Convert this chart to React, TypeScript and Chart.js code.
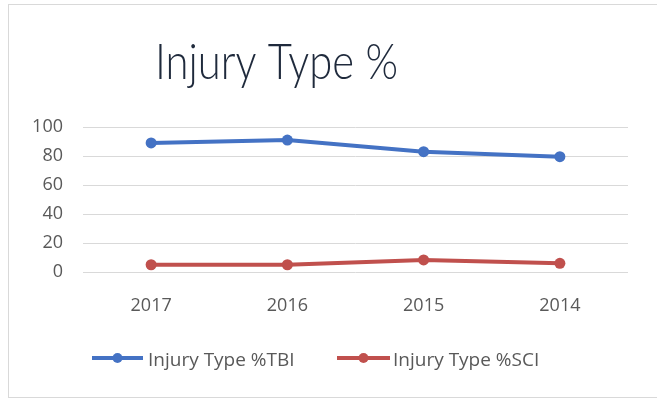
import React, { useEffect, useRef } from "react";
import { Chart, registerables } from "chart.js";

Chart.register(...registerables);

const years = ["2017", "2016", "2015", "2014"];
const tbiValues = [89, 91, 83, 79.5];
const sciValues = [5, 5, 8.3, 6];
const yTicks = [0, 20, 40, 60, 80, 100];
const titleText = "Injury Type %";
const seriesNames = ["Injury Type %TBI", "Injury Type %SCI"];

const BLUE = "#4472C4";
const RED = "#C0504D";
const GRID = "#d9d9d9";
const TICK = "#595959";

const customPlugin = {
  id: "customDecor",
  afterDraw(chart: any) {
    const ctx = chart.ctx as CanvasRenderingContext2D;
    ctx.save();
    // Title
    ctx.font = "300 50px Lato, sans-serif";
    ctx.fillStyle = "#1f2a3c";
    ctx.textBaseline = "alphabetic";
    ctx.textAlign = "left";
    const w = ctx.measureText(titleText).width;
    const target = 243;
    const sx = target / w;
    ctx.translate(155, 79);
    ctx.scale(sx, 1);
    ctx.fillText(titleText, 0, 0);
    ctx.restore();

    // Legend
    const items = [
      { color: BLUE, x0: 92, x1: 143, tx: 148, label: seriesNames[0] },
      { color: RED, x0: 337, x1: 390, tx: 393, label: seriesNames[1] },
    ];
    ctx.save();
    const ly = 358;
    for (const it of items) {
      ctx.strokeStyle = it.color;
      ctx.lineWidth = 4;
      ctx.beginPath();
      ctx.moveTo(it.x0, ly);
      ctx.lineTo(it.x1, ly);
      ctx.stroke();
      ctx.fillStyle = it.color;
      ctx.beginPath();
      ctx.arc((it.x0 + it.x1) / 2, ly, 5, 0, Math.PI * 2);
      ctx.fill();
      ctx.font = "19px 'Open Sans', sans-serif";
      ctx.fillStyle = TICK;
      ctx.textBaseline = "alphabetic";
      ctx.textAlign = "left";
      ctx.fillText(it.label, it.tx, 366);
    }
    ctx.restore();
  },
};

export default function App() {
  const ref = useRef<HTMLCanvasElement | null>(null);
  useEffect(() => {
    if (!ref.current) return;
    const chart = new Chart(ref.current, {
      type: "line",
      data: {
        labels: years,
        datasets: [
          {
            label: seriesNames[0],
            data: tbiValues,
            borderColor: BLUE,
            backgroundColor: BLUE,
            borderWidth: 4,
            pointRadius: 5.5,
            pointBackgroundColor: BLUE,
            pointBorderColor: BLUE,
            pointBorderWidth: 0,
            tension: 0,
          },
          {
            label: seriesNames[1],
            data: sciValues,
            borderColor: RED,
            backgroundColor: RED,
            borderWidth: 4,
            pointRadius: 5.5,
            pointBackgroundColor: RED,
            pointBorderColor: RED,
            pointBorderWidth: 0,
            tension: 0,
          },
        ],
      },
      options: {
        responsive: false,
        animation: false,
        maintainAspectRatio: false,
        layout: { padding: { left: 32, right: 29, top: 127, bottom: 0 } },
        plugins: {
          legend: { display: false },
          title: { display: false },
          tooltip: { enabled: false },
        },
        scales: {
          x: {
            offset: true,
            grid: { display: false, drawTicks: false },
            border: { display: false },
            ticks: {
              color: TICK,
              font: { family: "'Open Sans', sans-serif", size: 18 },
              padding: 23,
              maxRotation: 0,
            },
            afterFit: (s: any) => {
              s.height = 128;
            },
          },
          y: {
            min: 0,
            max: 100,
            grid: { color: GRID, lineWidth: 1, drawTicks: false },
            border: { display: false },
            afterBuildTicks: (s: any) => {
              s.ticks = yTicks.map((v) => ({ value: v }));
            },
            ticks: {
              color: TICK,
              font: { family: "'Open Sans', sans-serif", size: 18 },
              padding: 20,
            },
            afterFit: (s: any) => {
              s.width = 51;
            },
          },
        },
      },
      plugins: [customPlugin],
    });
    return () => chart.destroy();
  }, []);

  return (
    <div style={{ position: "absolute", left: 0, top: 0, width: 657, height: 400, overflow: "hidden", background: "#fff" }}>
      <div
        style={{
          position: "absolute",
          left: 8,
          top: 4,
          width: 700,
          height: 394,
          border: "1px solid #d9d9d9",
          boxSizing: "border-box",
        }}
      />
      <canvas ref={ref} width={657} height={400} style={{ position: "absolute", left: 0, top: 0, width: 657, height: 400 }} />
    </div>
  );
}
